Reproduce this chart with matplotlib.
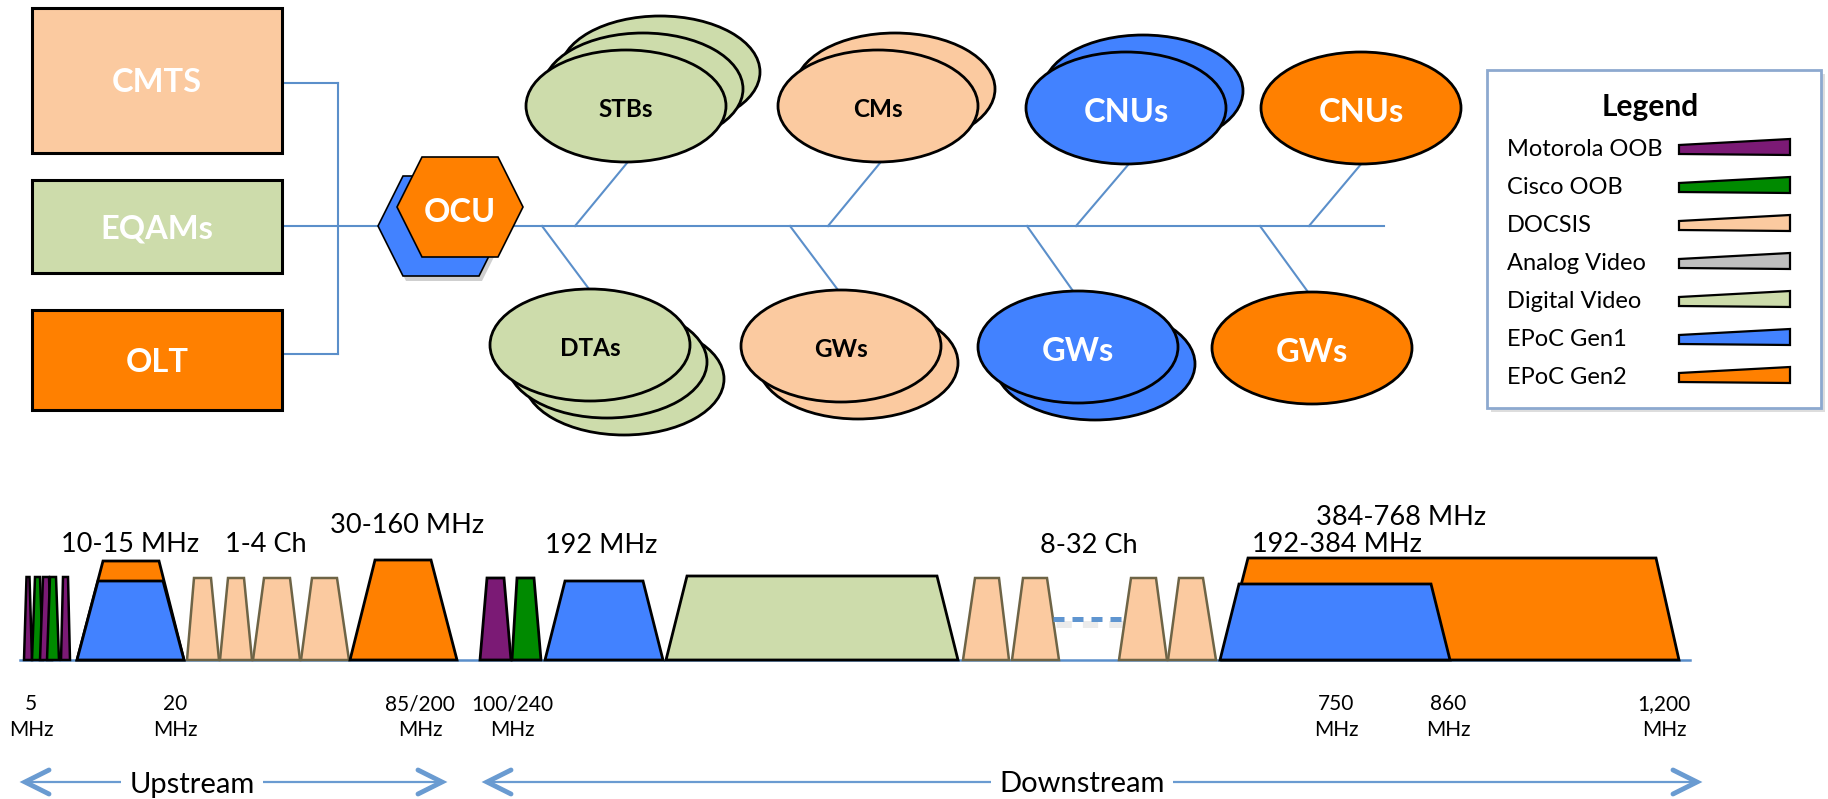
import numpy as np
import matplotlib.pyplot as plt
from matplotlib.patches import Rectangle, Ellipse, Polygon

plt.rcParams['font.family'] = ['Lato', 'DejaVu Sans']

# colours
peach = '#FBCAA0'
lgreen = '#CDDCAB'
orange = '#FF8000'
blue = '#4282FF'
purple = '#7B1A75'
dgreen = '#008A00'
gray = '#BFBFBF'
lineblue = '#5B8FCA'
arrowblue = '#6A9BD1'
olive = '#6E6446'

# head-end devices
head_names = ['CMTS', 'EQAMs', 'OLT']
head_colors = [peach, lgreen, orange]

# customer devices (top row / bottom row)
top_names = ['STBs', 'CMs', 'CNUs', 'CNUs']
bot_names = ['DTAs', 'GWs', 'GWs', 'GWs']
cpe_colors = [lgreen, peach, blue, orange]
cpe_stack = [3, 2, 2, 1]
cpe_text = ['black', 'black', 'white', 'white']

# legend
legend_labels = ['Motorola OOB', 'Cisco OOB', 'DOCSIS', 'Analog Video',
                 'Digital Video', 'EPoC Gen1', 'EPoC Gen2']
legend_colors = [purple, dgreen, peach, gray, lgreen, blue, orange]

# spectrum labels
band_labels = ['10-15 MHz', '1-4 Ch', '30-160 MHz', '192 MHz', '8-32 Ch',
               '192-384 MHz', '384-768 MHz']
freq_labels = ['5', '20', '85/200', '100/240', '750', '860', '1,200']

W, H = 1828, 799
fig = plt.figure(figsize=(W / 100, H / 100), dpi=100)
ax = fig.add_axes([0, 0, 1, 1])
ax.set_xlim(0, W)
ax.set_ylim(H, 0)
ax.axis('off')


def ctext(x, y, s, size, **kw):
    # y is the centre of the capital letters
    ax.text(x, y + 0.36 * size * 100 / 72, s, fontsize=size, ha='center',
            va='baseline', **kw)


def trap(xl, xr, txl, txr, ytop, fc, ec='black', lw=2.0, ybot=660, z=3):
    ax.add_patch(Polygon([(xl, ybot), (xr, ybot), (txr, ytop), (txl, ytop)],
                         closed=True, fc=fc, ec=ec, lw=lw, zorder=z,
                         joinstyle='miter'))


# ---- head-end boxes and connectors ----
box_top = [8, 180, 310]
box_h = [145, 93, 100]
for name, col, t, h in zip(head_names, head_colors, box_top, box_h):
    ax.add_patch(Rectangle((32, t), 250, h, fc=col, ec='black', lw=2.2, zorder=3))
    ctext(157, t + h / 2, name, 23.5, color='white', fontweight='bold', zorder=4)

ax.plot([282, 338], [83, 83], color=lineblue, lw=1.5, zorder=1)
ax.plot([338, 338], [83, 354], color=lineblue, lw=1.5, zorder=1)
ax.plot([283, 338], [354, 354], color=lineblue, lw=1.5, zorder=1)
ax.plot([282, 1384], [226, 226], color=lineblue, lw=1.5, zorder=1)

# ---- OCU hexagons ----
def hexagon(cx, cy, fc, z, ec='black'):
    pts = [(cx - 63, cy), (cx - 38, cy - 50), (cx + 38, cy - 50),
           (cx + 63, cy), (cx + 38, cy + 50), (cx - 38, cy + 50)]
    ax.add_patch(Polygon(pts, closed=True, fc=fc, ec=ec, lw=1.2, zorder=z))

hexagon(444, 231, '#00000030', 2, ec='none')
hexagon(441, 226, blue, 3)
hexagon(460, 207, orange, 4)
ctext(460, 210, 'OCU', 23.5, color='white', fontweight='bold', zorder=5)

# ---- customer ellipses ----
top_c = [(626, 106), (878, 106), (1126, 108), (1361, 108)]
bot_c = [(590, 345), (841, 346), (1078, 347), (1312, 348)]
ew, eh = 200, 112
for row, centres, dy in [(top_names, top_c, -17), (bot_names, bot_c, 17)]:
    for name, (cx, cy), col, n, tc in zip(row, centres, cpe_colors, cpe_stack, cpe_text):
        for k in range(n - 1, -1, -1):
            ax.add_patch(Ellipse((cx + 17 * k, cy + dy * k), ew, eh, fc=col,
                                 ec='black', lw=2.0, zorder=3))
        big = tc == 'white'
        ctext(cx, cy + 2, name, 23.5 if big else 17.5, color=tc,
              fontweight='bold', zorder=4)

# branch lines
branches = [((627, 163), (575, 226)), ((542, 226), (589, 289)),
            ((880, 163), (828, 226)), ((790, 226), (838, 290)),
            ((1128, 165), (1076, 226)), ((1027, 226), (1073, 291)),
            ((1362, 163), (1309, 226)), ((1260, 226), (1308, 292))]
for (x0, y0), (x1, y1) in branches:
    ax.plot([x0, x1], [y0, y1], color=lineblue, lw=1.5, zorder=1)

# ---- legend ----
ax.add_patch(Rectangle((1491, 74), 334, 338, fc='#00000022', ec='none', zorder=1))
ax.add_patch(Rectangle((1487, 70), 334, 338, fc='white', ec='#8DA9CF', lw=2, zorder=2))
ctext(1650, 105, 'Legend', 21.5, fontweight='bold', zorder=3)
for i, (lab, col) in enumerate(zip(legend_labels, legend_colors)):
    y = 148 + 38 * i
    ax.text(1507, y + 0.36 * 17 * 100 / 72, lab, fontsize=17, ha='left',
            va='baseline', zorder=3)
    ax.add_patch(Polygon([(1679, y - 3), (1790, y - 9), (1790, y + 7), (1679, y + 6)],
                         closed=True, fc=col, ec='black', lw=1.6, zorder=3))

# ---- spectrum ----
ax.plot([20, 1690], [660, 660], color=lineblue, lw=1.8, zorder=1)

# upstream OOB carriers
oob = [(24, 32, 26.5, 29.5, purple), (32, 43, 35, 40, dgreen),
       (40, 52, 43, 49, purple), (47, 59, 50, 56, dgreen),
       (61, 70, 63, 68, purple)]
for xl, xr, tl, tr, c in oob:
    trap(xl, xr, tl, tr, 577, c, lw=1.8)

# EPoC upstream
trap(77, 184, 103, 159, 561, orange)
trap(77, 184, 98, 163, 581, blue, z=4)

# DOCSIS upstream
for xl, xr, tl, tr in [(187, 219, 194, 211), (220, 252, 228, 244),
                       (253, 300, 264, 290), (301, 349, 312, 337)]:
    trap(xl, xr, tl, tr, 578, peach, ec=olive, lw=1.8)

trap(350, 457, 375, 431, 560, orange)

# downstream
trap(480, 511, 487, 504, 578, purple)
trap(512, 541, 517, 534, 578, dgreen)
trap(545, 663, 565, 643, 581, blue)
trap(666, 958, 687, 937, 576, lgreen)
for xl, xr, tl, tr in [(963, 1009, 975, 999), (1012, 1059, 1023, 1047),
                       (1119, 1167, 1131, 1156), (1168, 1216, 1179, 1203)]:
    trap(xl, xr, tl, tr, 578, peach, ec=olive, lw=1.8)
ax.plot([1056, 1126], [624, 624], color='#00000014', lw=5, ls=(0, (2.2, 1.6)), zorder=2)
ax.plot([1053, 1123], [619, 619], color='#5F95D0', lw=3.6, ls=(0, (2.2, 1.6)), zorder=4)

trap(1222, 1679, 1248, 1656, 558, orange)
trap(1220, 1450, 1239, 1431, 584, blue, z=4)

band_pos = [(130, 542), (266, 542), (407, 523), (601, 543), (1089, 543),
            (1337, 542), (1401, 515)]
for lab, (x, y) in zip(band_labels, band_pos):
    ctext(x, y, lab, 19.5, zorder=5)

freq_x = [31, 175, 420, 512, 1336, 1448, 1664]
for lab, x in zip(freq_labels, freq_x):
    ctext(x, 703, lab, 15)
    ctext(x, 729, 'MHz', 15)

# ---- direction arrows ----
def chevron(x, y, d):
    ax.plot([x + d * 24, x, x + d * 24], [y - 12, y, y + 12], color=arrowblue,
            lw=3.5, solid_capstyle='round', solid_joinstyle='miter', zorder=2)

for x0, x1, lab, xt in [(25, 442, 'Upstream', 192), (487, 1697, 'Downstream', 1082)]:
    ax.plot([x0 + 2, x1 - 2], [782, 782], color=arrowblue, lw=1.6, zorder=1)
    chevron(x0, 782, 1)
    chevron(x1, 782, -1)
    ctext(xt, 782, lab, 21, zorder=3,
          bbox=dict(fc='white', ec='none', pad=6))

fig.savefig('out.png', dpi=100)
